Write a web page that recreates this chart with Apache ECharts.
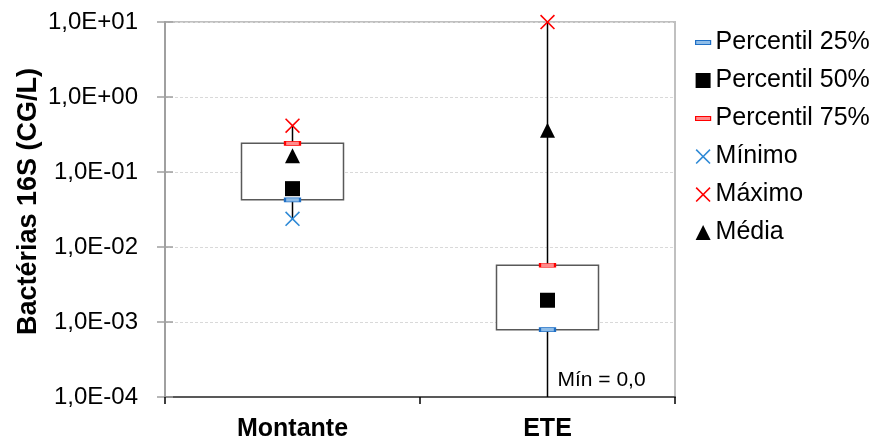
<!DOCTYPE html>
<html>
<head>
<meta charset="utf-8">
<script src="https://cdn.jsdelivr.net/npm/echarts@6/dist/echarts.min.js"></script>
<style>
  html, body { margin: 0; padding: 0; background: #fff; }
  #chart { width: 879px; height: 442px; }
</style>
</head>
<body>
<div id="chart"></div>
<script>
// ---- data ----
const categories = ['Montante', 'ETE'];
const percentil25 = [0.0425, 0.00079];
const percentil50 = [0.060, 0.00195];
const percentil75 = [0.241, 0.0057];
const minimo = [0.0238, 0];
const maximo = [0.414, 10];
const media = [0.165, 0.36];
const yMinValue = 1e-4;
const yMaxValue = 10;
const seriesNames = ['Percentil 25%', 'Percentil 50%', 'Percentil 75%', 'Mínimo', 'Máximo', 'Média'];
const yAxisTitle = 'Bactérias 16S (CG/L)';
const minLabelPrefix = 'Mín = ';

// ---- styling ----
const FONT = 'Liberation Sans, Arial, Helvetica, sans-serif';
const BLUE = '#1f6fc5';
const BLUE_FILL = '#8fbde8';
const BLUE_X = '#2f8ad6';
const RED = '#ff0000';
const RED_FILL = '#ff8c8c';

// filled "X" glyph (thin arms)
const t = 0.75;
const X_PATH = 'path://M0,' + t + 'L' + t + ',0L5,' + (5 - t) + 'L' + (10 - t) + ',0L10,' + t +
  'L' + (5 + t) + ',5L10,' + (10 - t) + 'L' + (10 - t) + ',10L5,' + (5 + t) + 'L' + t + ',10L0,' + (10 - t) +
  'L' + (5 - t) + ',5Z';
// thin bar icon with square bounding box for the legend
const BAR_ICON = 'path://M0,0M15,15M0,5.5h15v4h-15z';

function fmtExp(v) {
  const e = Math.round(Math.log10(v));
  return '1,0E' + (e < 0 ? '-' : '+') + String(Math.abs(e)).padStart(2, '0');
}
function pts(arr) {
  return categories.map((c, i) => [c, arr[i] > 0 ? arr[i] : '-']);
}

const boxData = categories.map((c, i) => [i, minimo[i], percentil25[i], percentil75[i], maximo[i]]);

const chart = echarts.init(document.getElementById('chart'), null, { renderer: 'canvas' });

const option = {
  animation: false,
  backgroundColor: '#fff',
  textStyle: { fontFamily: FONT },
  grid: {
    left: 165, right: 204, top: 22, bottom: 45,
    show: true, borderColor: '#c0c0c0', borderWidth: 2, backgroundColor: 'transparent'
  },
  legend: {
    orient: 'vertical',
    left: 690, top: 25,
    itemWidth: 15, itemHeight: 15, itemGap: 13,
    selectedMode: false,
    textStyle: { fontSize: 25, color: '#000', fontFamily: FONT },
    data: [
      { name: seriesNames[0], icon: BAR_ICON, itemStyle: { color: BLUE_FILL, borderColor: BLUE, borderWidth: 1.2 } },
      { name: seriesNames[1], icon: 'rect', itemStyle: { color: '#000', borderWidth: 0 } },
      { name: seriesNames[2], icon: BAR_ICON, itemStyle: { color: RED_FILL, borderColor: RED, borderWidth: 1.2 } },
      { name: seriesNames[3], icon: X_PATH, itemStyle: { color: BLUE_X, borderWidth: 0 } },
      { name: seriesNames[4], icon: X_PATH, itemStyle: { color: RED, borderWidth: 0 } },
      { name: seriesNames[5], icon: 'triangle', itemStyle: { color: '#000', borderWidth: 0 } }
    ]
  },
  xAxis: {
    type: 'category',
    data: categories,
    boundaryGap: true,
    axisLine: { lineStyle: { color: '#595959', width: 2 } },
    axisTick: { show: true, length: 7, lineStyle: { color: '#000', width: 1.5 } },
    axisLabel: { fontSize: 25, fontWeight: 'bold', color: '#000', margin: 20, fontFamily: FONT },
    splitLine: { show: false }
  },
  yAxis: [
    {
      type: 'log',
      logBase: 10,
      min: yMinValue,
      max: yMaxValue,
      name: yAxisTitle,
      nameLocation: 'middle',
      nameGap: 123,
      nameMoveOverlap: false,
      nameRotate: 90,
      nameTextStyle: { fontSize: 27, fontWeight: 'bold', color: '#000', fontFamily: FONT, padding: [0, 0, 0, 16] },
      axisLine: { show: true, lineStyle: { color: '#a0a0a0', width: 2 } },
      axisTick: { show: true, length: 8, lineStyle: { color: '#a0a0a0', width: 1.5 } },
      axisLabel: { fontSize: 24, color: '#000', margin: 27, formatter: fmtExp, fontFamily: FONT },
      splitLine: { show: true, lineStyle: { color: '#d9d9d9', type: [3, 2], width: 1 } }
    },
    {
      type: 'log',
      logBase: 10,
      min: yMinValue,
      max: yMaxValue,
      position: 'left',
      axisLine: { show: false },
      axisTick: { show: true, inside: true, length: 8, lineStyle: { color: '#a0a0a0', width: 1.5 } },
      axisLabel: { show: false },
      splitLine: { show: false }
    }
  ],
  series: [
    {
      name: 'caixa',
      type: 'custom',
      silent: true,
      z: 1,
      encode: { x: 0, y: [2, 3] },
      data: boxData,
      renderItem: function (params, api) {
        const idx = api.value(0);
        const lo = api.value(1), q1 = api.value(2), q3 = api.value(3), hi = api.value(4);
        const cs = params.coordSys;
        const xc = api.coord([idx, q1])[0];
        const yBottom = cs.y + cs.height;
        const yLo = lo > 0 ? api.coord([idx, lo])[1] : yBottom;
        const yHi = api.coord([idx, hi])[1];
        const yQ1 = api.coord([idx, q1])[1];
        const yQ3 = api.coord([idx, q3])[1];
        const w = api.size([1, 1])[0] * 0.4;
        const children = [
          { type: 'line', shape: { x1: xc, y1: yHi, x2: xc, y2: yLo }, style: { stroke: '#000', lineWidth: 1.5 } },
          { type: 'rect', shape: { x: xc - w / 2, y: yQ3, width: w, height: yQ1 - yQ3 }, style: { fill: '#fff', stroke: '#595959', lineWidth: 1.5 } }
        ];
        if (!(lo > 0)) {
          children.push({
            type: 'text',
            style: {
              x: xc + 10, y: yBottom - 17,
              text: minLabelPrefix + lo.toFixed(1).replace('.', ','),
              fill: '#000', font: '21px ' + FONT,
              verticalAlign: 'middle', align: 'left'
            }
          });
        }
        return { type: 'group', children: children };
      }
    },
    {
      name: seriesNames[0], type: 'scatter', z: 3, silent: true,
      symbol: 'rect', symbolSize: [15, 4],
      itemStyle: { color: BLUE_FILL, borderColor: BLUE, borderWidth: 1.2, opacity: 1 },
      data: pts(percentil25)
    },
    {
      name: seriesNames[1], type: 'scatter', z: 3, silent: true,
      symbol: 'rect', symbolSize: 15,
      itemStyle: { color: '#000', opacity: 1 },
      data: pts(percentil50)
    },
    {
      name: seriesNames[2], type: 'scatter', z: 3, silent: true,
      symbol: 'rect', symbolSize: [15, 4],
      itemStyle: { color: RED_FILL, borderColor: RED, borderWidth: 1.2, opacity: 1 },
      data: pts(percentil75)
    },
    {
      name: seriesNames[3], type: 'scatter', z: 3, silent: true,
      symbol: X_PATH, symbolSize: 15,
      itemStyle: { color: BLUE_X, opacity: 1 },
      data: pts(minimo)
    },
    {
      name: seriesNames[4], type: 'scatter', z: 3, silent: true,
      symbol: X_PATH, symbolSize: 15,
      itemStyle: { color: RED, opacity: 1 },
      data: pts(maximo)
    },
    {
      name: seriesNames[5], type: 'scatter', z: 3, silent: true,
      symbol: 'triangle', symbolSize: 15,
      itemStyle: { color: '#000', opacity: 1 },
      data: pts(media)
    }
  ]
};
chart.setOption(option);
</script>
</body>
</html>
